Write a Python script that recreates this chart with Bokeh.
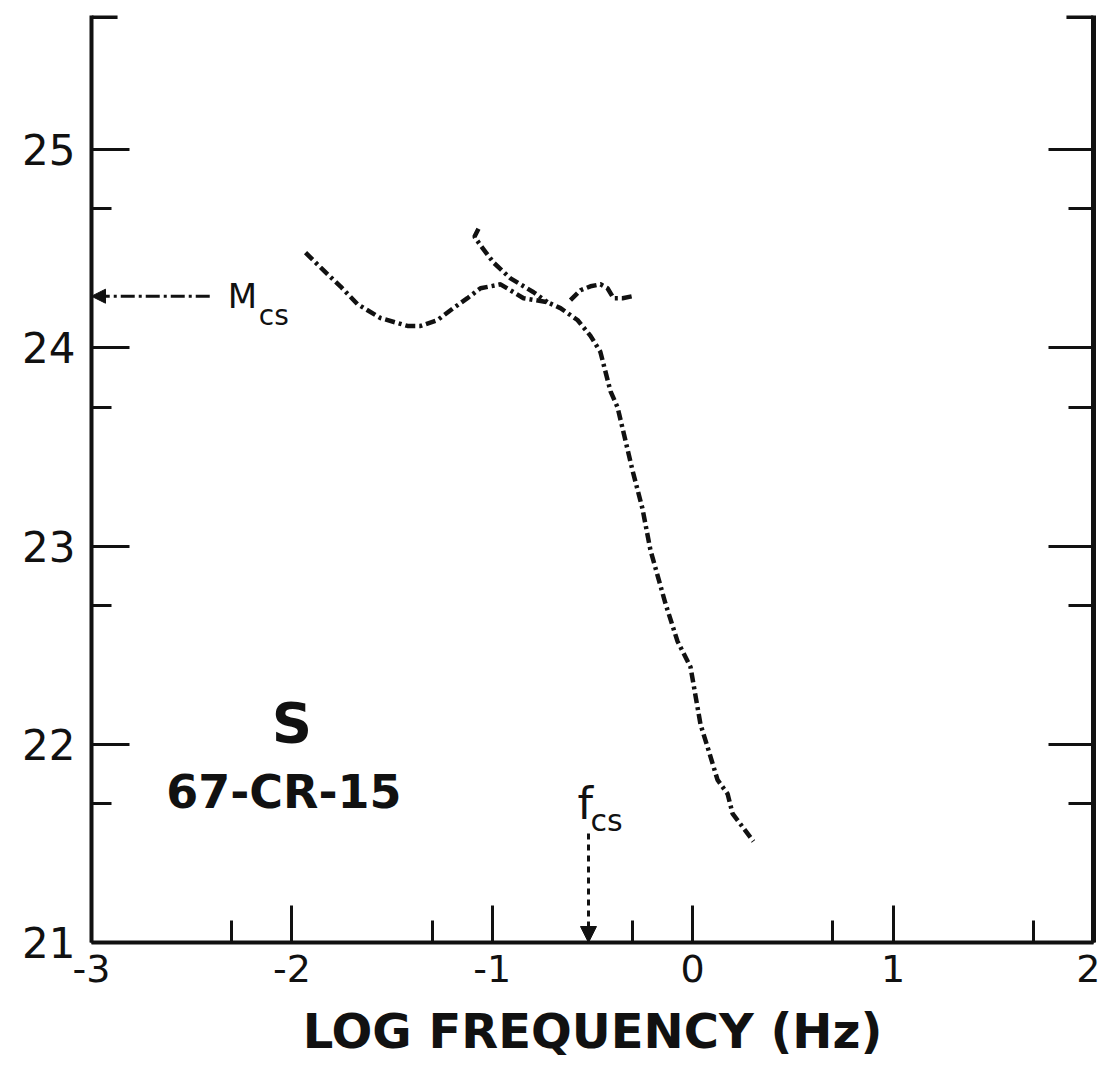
from bokeh.plotting import figure
from bokeh.models import Range1d, FixedTicker, LinearAxis, Arrow, NormalHead
from bokeh.embed import file_html
from bokeh.resources import INLINE
from bokeh.core.properties import value

# ---- data ----
x_ticks = [-3, -2, -1, 0, 1, 2]
x_minor = [-2.3, -1.3, -0.3, 0.7, 1.7]
x_labels = ["-3", "-2", "-1", "0", "1", "2"]
y_ticks = [21, 22, 23, 24, 25]
y_minor = [21.7, 22.7, 23.7, 24.7]
y_labels = ["21", "22", "23", "24", "25"]

main_x = [-1.932, -1.857, -1.758, -1.673, -1.558, -1.423, -1.358, -1.273, -1.194,
          -1.124, -1.059, -0.959, -0.844, -0.725, -0.660, -0.575, -0.510, -0.461,
          -0.410, -0.375, -0.300, -0.251, -0.211, -0.136, -0.076, -0.011, 0.039,
          0.079, 0.124, 0.174, 0.199, 0.303]
main_y = [24.48, 24.405, 24.31, 24.22, 24.15, 24.11, 24.11, 24.14, 24.20,
          24.25, 24.30, 24.32, 24.25, 24.23, 24.20, 24.14, 24.06, 23.98,
          23.78, 23.70, 23.38, 23.19, 22.98, 22.71, 22.52, 22.39, 22.10,
          21.97, 21.82, 21.75, 21.65, 21.51]

branch2_x = [-1.069, -1.089, -1.054, -0.994, -0.909, -0.794, -0.725]
branch2_y = [24.60, 24.56, 24.51, 24.43, 24.35, 24.28, 24.23]

branch3_x = [-0.610, -0.560, -0.510, -0.460, -0.425, -0.395, -0.350, -0.300]
branch3_y = [24.24, 24.29, 24.31, 24.32, 24.30, 24.25, 24.25, 24.26]

mcs_value = 24.26      # M_cs level (arrow to left axis)
mcs_from_x = -2.41
fcs_value = -0.52      # f_cs (arrow to frequency axis)
fcs_from_y = 21.55

X0, X1 = -3, 2
Y0, Y1 = 21, 25.676

FONT = "DejaVu Sans"
INK = "#111111"

p = figure(width=1100, height=1075, x_range=Range1d(X0, X1), y_range=Range1d(Y0, Y1),
           output_backend="svg", toolbar_location=None,
           min_border_left=91, min_border_right=7, min_border_top=15, min_border_bottom=133,
           x_axis_label="LOG FREQUENCY (Hz)")
p.grid.visible = False
p.outline_line_color = None
p.background_fill_color = "white"
p.border_fill_color = "white"

xa = p.xaxis[0]
xa.ticker = FixedTicker(ticks=x_ticks, minor_ticks=x_minor)
xa.major_label_overrides = {t: l for t, l in zip(x_ticks, x_labels)}
xa.major_tick_in = 37
xa.major_tick_out = 0
xa.minor_tick_in = 22
xa.minor_tick_out = 0
xa.axis_line_width = 4
xa.major_tick_line_width = 3
xa.minor_tick_line_width = 3
xa.axis_line_color = INK
xa.major_tick_line_color = INK
xa.minor_tick_line_color = INK
xa.major_label_standoff = 12
xa.major_label_text_font = FONT
xa.major_label_text_font_size = "38px"
xa.major_label_text_color = INK
xa.axis_label_text_font = FONT
xa.axis_label_text_font_style = "bold"
xa.axis_label_text_font_size = "48px"
xa.axis_label_text_color = INK
xa.axis_label_standoff = 18

ya = p.yaxis[0]
ya.ticker = FixedTicker(ticks=y_ticks, minor_ticks=y_minor)
ya.major_label_overrides = {t: l for t, l in zip(y_ticks, y_labels)}
ya.major_tick_in = 38
ya.major_tick_out = 0
ya.minor_tick_in = 20
ya.minor_tick_out = 0
ya.axis_line_width = 4
ya.major_tick_line_width = 3
ya.minor_tick_line_width = 3
ya.axis_line_color = INK
ya.major_tick_line_color = INK
ya.minor_tick_line_color = INK
ya.major_label_standoff = 16
ya.major_label_text_font = FONT
ya.major_label_text_font_size = "42px"
ya.major_label_text_color = INK

ra = LinearAxis(ticker=FixedTicker(ticks=y_ticks, minor_ticks=y_minor),
                major_label_overrides={t: "" for t in y_ticks},
                major_label_text_font_size="0px", major_label_standoff=0,
                major_tick_in=45, major_tick_out=0, minor_tick_in=25, minor_tick_out=0,
                axis_line_width=5, major_tick_line_width=3, minor_tick_line_width=3,
                axis_line_color=INK, major_tick_line_color=INK, minor_tick_line_color=INK)
p.add_layout(ra, "right")

# short stubs at the top ends of the side axes
p.segment(x0=[X0, X1 - 0.135], y0=[Y1 - 0.008, Y1 - 0.008], x1=[X0 + 0.13, X1], y1=[Y1 - 0.008, Y1 - 0.008],
          line_color=INK, line_width=4)

# curves
for xs, ys in [(main_x, main_y), (branch2_x, branch2_y), (branch3_x, branch3_y)]:
    p.line(xs, ys, line_color=INK, line_width=4.5, line_dash="10 4 3 4")

# M_cs arrow
p.add_layout(Arrow(end=NormalHead(size=14, fill_color=INK, line_color=INK),
                   x_start=mcs_from_x, y_start=mcs_value, x_end=X0, y_end=mcs_value,
                   line_color=INK, line_width=3, line_dash="14 4 3 4"))
# f_cs arrow
p.add_layout(Arrow(end=NormalHead(size=16, fill_color=INK, line_color=INK),
                   x_start=fcs_value, y_start=fcs_from_y, x_end=fcs_value, y_end=Y0,
                   line_color=INK, line_width=3, line_dash="6 5"))

# labels
p.text(x=[-2.32], y=[24.26], text=["M"], text_font=value(FONT), text_font_size="34px",
       text_color=INK, text_align="left", text_baseline="alphabetic")
p.text(x=[-2.165], y=[24.165], text=["cs"], text_font=value(FONT), text_font_size="28px",
       text_color=INK, text_align="left", text_baseline="alphabetic")
p.text(x=[-0.575], y=[21.70], text=["f"], text_font=value(FONT), text_font_size="44px",
       text_color=INK, text_align="left", text_baseline="alphabetic")
p.text(x=[-0.51], y=[21.615], text=["cs"], text_font=value(FONT), text_font_size="30px",
       text_color=INK, text_align="left", text_baseline="alphabetic")
p.text(x=[-2.0], y=[22.11], text=["S"], text_font=value(FONT), text_font_style="bold",
       text_font_size="56px", text_color=INK, text_align="center", text_baseline="middle")
p.text(x=[-2.04], y=[21.76], text=["67-CR-15"], text_font=value(FONT), text_font_style="bold",
       text_font_size="46px", text_color=INK, text_align="center", text_baseline="middle")

open("out.html", "w").write(file_html(p, INLINE))
